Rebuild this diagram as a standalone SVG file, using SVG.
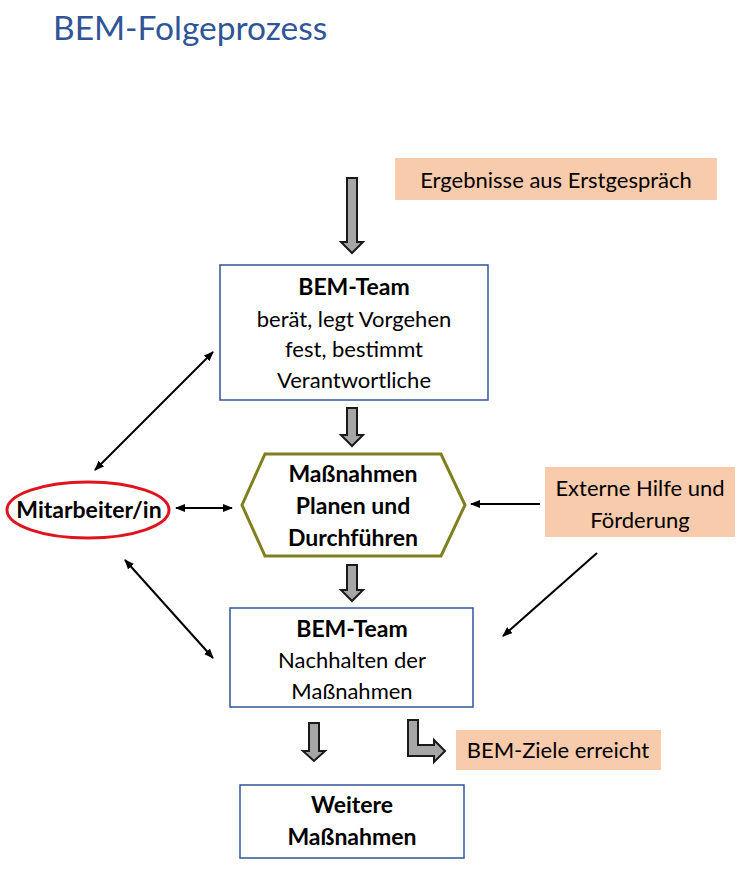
<svg xmlns="http://www.w3.org/2000/svg" width="746" height="873" viewBox="0 0 746 873">
<defs>
<style>
text{font-family:Lato,"Open Sans","Liberation Sans",sans-serif;fill:#000;text-anchor:middle}
.t{font-size:22px}
.b{font-size:23px;font-weight:bold}
.box{fill:#fff;stroke:#2F5597;stroke-width:1.5}
.peach{fill:#F8CBAD}
.big{fill:#A6A6A6;stroke:#1a1a1a;stroke-width:2;stroke-linejoin:miter}
.ln{stroke:#000;stroke-width:2;fill:none}
</style>
<marker id="ah" markerWidth="10" markerHeight="8" refX="9" refY="4" orient="auto-start-reverse" markerUnits="userSpaceOnUse">
<path d="M0,0 L10,4 L0,8 z" fill="#000"/>
</marker>
</defs>
<rect width="746" height="873" fill="#fff"/>
<text x="53" y="40" style="font-size:33.5px;text-anchor:start;fill:#2F5597">BEM-Folgeprozess</text>

<g id="ergebnisse">
<rect class="peach" x="395" y="158" width="322" height="42"/>
<text class="t" x="556" y="188">Ergebnisse aus Erstgespräch</text>
</g>

<g id="bemteam1">
<rect class="box" x="220" y="265" width="268" height="135"/>
<text class="b" x="354" y="295">BEM-Team</text>
<text class="t" x="354" y="327">berät, legt Vorgehen</text>
<text class="t" x="354" y="357">fest, bestimmt</text>
<text class="t" x="354" y="388">Verantwortliche</text>
</g>

<g id="massnahmen">
<polygon points="242,505 265,454 441,454 465,505 441,556 265,556" fill="#fff" stroke="#7F7F1F" stroke-width="3"/>
<text class="b" x="353" y="482">Maßnahmen</text>
<text class="b" x="353" y="514">Planen und</text>
<text class="b" x="353" y="546">Durchführen</text>
</g>

<g id="mitarbeiter">
<ellipse cx="88" cy="510" rx="81" ry="28" fill="#fff" stroke="#E0141E" stroke-width="3"/>
<text class="b" x="89" y="518">Mitarbeiter/in</text>
</g>

<g id="externe">
<rect class="peach" x="545" y="467" width="190" height="70"/>
<text class="t" x="640" y="496">Externe Hilfe und</text>
<text class="t" x="640" y="528">Förderung</text>
</g>

<g id="bemteam2">
<rect class="box" x="230" y="608" width="243" height="99"/>
<text class="b" x="352" y="637">BEM-Team</text>
<text class="t" x="352" y="668">Nachhalten der</text>
<text class="t" x="352" y="699">Maßnahmen</text>
</g>

<g id="ziele">
<rect class="peach" x="456" y="730" width="205" height="40"/>
<text class="t" x="558" y="758">BEM-Ziele erreicht</text>
</g>

<g id="weitere">
<rect class="box" x="240" y="785" width="224" height="73"/>
<text class="b" x="352" y="813">Weitere</text>
<text class="b" x="352" y="845">Maßnahmen</text>
</g>

<g id="connectors">
<path class="big" d="M347,178 H357 V242 H363 L352,253 L341,242 H347 Z"/>
<path class="big" d="M347,408 H357 V435 H363 L352,446 L341,435 H347 Z"/>
<path class="big" d="M347,565 H357 V590 H363 L352,601 L341,590 H347 Z"/>
<path class="big" d="M309,723 H319 V751 H325 L314,761 L303,751 H309 Z"/>
<path class="big" d="M408,720 H418 V745 H434 V740 L445,751 L434,762 V756 H408 Z"/>
<line class="ln" x1="213" y1="352" x2="95" y2="470" marker-start="url(#ah)" marker-end="url(#ah)"/>
<line class="ln" x1="176" y1="508" x2="232" y2="508" marker-start="url(#ah)" marker-end="url(#ah)"/>
<line class="ln" x1="125" y1="560" x2="213" y2="658" marker-start="url(#ah)" marker-end="url(#ah)"/>
<line class="ln" x1="540" y1="504" x2="471" y2="504" marker-end="url(#ah)"/>
<line class="ln" x1="597" y1="553" x2="503" y2="636" marker-end="url(#ah)"/>
</g>
</svg>
